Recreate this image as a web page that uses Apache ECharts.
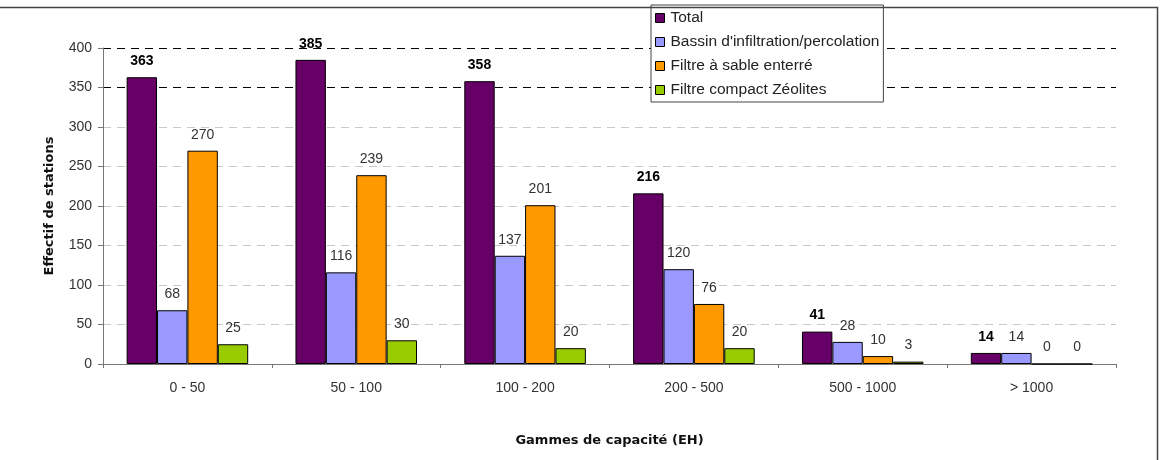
<!DOCTYPE html>
<html><head><meta charset="utf-8">
<script src="https://cdn.jsdelivr.net/npm/echarts@6/dist/echarts.min.js"></script>
<style>html,body{margin:0;padding:0;background:#fff}#c{width:1170px;height:460px}</style>
</head><body><div id="c"></div>
<script>
const categories = ['0 - 50', '50 - 100', '100 - 200', '200 - 500', '500 - 1000', '> 1000'];
const seriesNames = ['Total', "Bassin d'infiltration/percolation", 'Filtre à sable enterré', 'Filtre compact Zéolites'];
const total = [363, 385, 358, 216, 41, 14];
const bassin = [68, 116, 137, 120, 28, 14];
const sable = [270, 239, 201, 76, 10, 0];
const zeolites = [25, 30, 20, 20, 3, 0];
const colors = ['#660066', '#9999FF', '#FF9900', '#99CC00'];
const values = [total, bassin, sable, zeolites];

const FONT = '"Liberation Sans", Arial, sans-serif';
const BFONT = '"DejaVu Sans", "Liberation Sans", Arial, sans-serif';
const chart = echarts.init(document.getElementById('c'));
chart.setOption({
  animation: false,
  textStyle: { fontFamily: FONT },
  graphic: [{ type: 'rect', left: -5, top: 5, shape: { width: 1160, height: 470 }, style: { fill: 'none', stroke: '#444', lineWidth: 1.5 }, z: 100 }],
  legend: {
    orient: 'vertical', left: 651, top: 5, itemWidth: 9, itemHeight: 9, itemGap: 8,
    padding: [5, 4, 4, 4], backgroundColor: '#fff', borderColor: '#444', borderWidth: 1,
    icon: 'rect', textStyle: { fontFamily: FONT, fontSize: 15.5, color: '#222', padding: [0, 0, 0, 1] },
    itemStyle: { borderColor: '#000', borderWidth: 1 }, z: 20
  },
  grid: { left: 103, right: 54, top: 48, bottom: 96 },
  xAxis: {
    type: 'category', data: categories,
    name: 'Gammes de capacité (EH)', nameLocation: 'middle', nameGap: 70,
    nameTextStyle: { fontFamily: BFONT, fontSize: 13, fontWeight: 'bold', color: '#111' },
    axisLine: { lineStyle: { color: '#777' } },
    axisTick: { show: true, length: 4, lineStyle: { color: '#777' } },
    axisLabel: { fontFamily: FONT, fontSize: 14, color: '#333', margin: 17 }
  },
  yAxis: {
    type: 'value', min: 0, max: 400, interval: 50,
    name: 'Effectif de stations', nameLocation: 'middle', nameGap: 47, nameRotate: 90,
    nameTextStyle: { fontFamily: BFONT, fontSize: 13, fontWeight: 'bold', color: '#111' },
    axisLine: { show: true, lineStyle: { color: '#777' } },
    axisTick: { show: true, length: 5, lineStyle: { color: '#777' } },
    axisLabel: { fontFamily: FONT, fontSize: 14, color: '#333', margin: 11 },
    splitLine: { show: true, lineStyle: { type: [8, 6], width: 1, color: ['#c8c8c8', '#c8c8c8', '#c8c8c8', '#c8c8c8', '#c8c8c8', '#c8c8c8', '#c8c8c8', '#000', '#000'] } }
  },
  series: seriesNames.map((n, i) => ({
    name: n, type: 'bar', data: values[i],
    barGap: '0%', barCategoryGap: '28%',
    itemStyle: { color: colors[i], borderColor: '#000', borderWidth: 1 },
    label: {
      show: true, position: 'top', distance: 9,
      fontFamily: FONT, fontSize: 14,
      fontWeight: i === 0 ? 'bold' : 'normal',
      color: i === 0 ? '#000' : '#333'
    }
  }))
});
</script></body></html>
